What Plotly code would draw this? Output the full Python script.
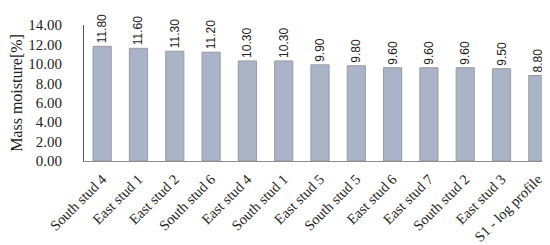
import plotly.graph_objects as go

categories = ["South stud 4", "East stud 1", "East stud 2", "South stud 6", "East stud 4",
              "South stud 1", "East stud 5", "South stud 5", "East stud 6", "East stud 7",
              "South stud 2", "East stud 3", "S1 - log profile"]
moisture = [11.80, 11.60, 11.30, 11.20, 10.30, 10.30, 9.90, 9.80, 9.60, 9.60, 9.60, 9.50, 8.80]

fig = go.Figure(go.Bar(
    x=categories,
    y=moisture,
    marker=dict(color="#aab4c8", line=dict(color="#9a9a9a", width=1)),
    width=0.5,
    text=[f"{v:.2f}" for v in moisture],
    textposition="outside",
    textangle=-90,
    constraintext="none",
    textfont=dict(family="Liberation Sans", size=12, color="#222222"),
    cliponaxis=False,
))

fig.update_layout(
    width=550, height=245,
    margin=dict(l=76, r=2, t=17, b=92),
    plot_bgcolor="white", paper_bgcolor="white",
    showlegend=False,
    font=dict(family="Liberation Serif", size=14, color="#222222"),
)
fig.update_xaxes(
    tickangle=-45, showline=True, linecolor="#8c8c8c", linewidth=1,
    ticks="", ticklabelstandoff=3, automargin=False,
    tickfont=dict(family="Liberation Serif", size=14.5),
)
fig.update_yaxes(
    range=[0, 14], dtick=2, tickformat=".2f", showgrid=False,
    showline=True, linecolor="#555555", linewidth=1, ticks="",
    ticklabelstandoff=18,
    title=dict(text="Mass moisture[%]", font=dict(family="Liberation Serif", size=16), standoff=5),
    tickfont=dict(family="Liberation Serif", size=15),
)

fig.write_html("out.html")
